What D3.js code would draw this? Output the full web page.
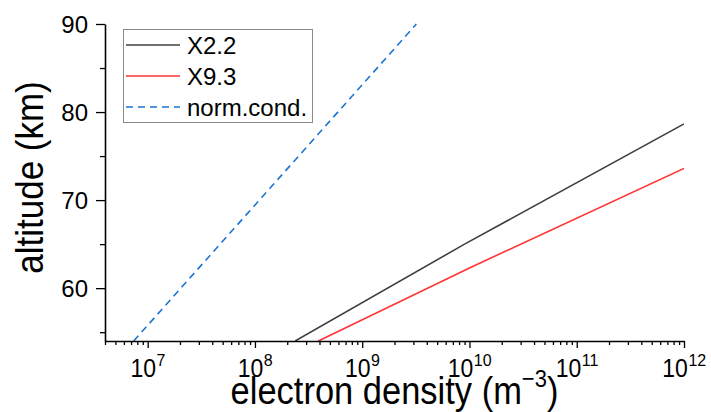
<!DOCTYPE html>
<html>
<head>
<meta charset="utf-8">
<script src="https://cdn.jsdelivr.net/npm/d3@7"></script>
<style>
  html, body { margin: 0; padding: 0; background: #fff; }
  svg { display: block; font-family: "Liberation Sans", Arial, sans-serif; }
</style>
</head>
<body>
<svg id="chart" width="711" height="412"></svg>
<script>
// ---- data ----
const seriesNames = ["X2.2", "X9.3", "norm.cond."];
const altX22 = [54, 65, 78.65];
const neX22  = [2.37e8, 9.0e9, 1e12];
const altX93 = [54, 62.3, 73.6];
const neX93  = [3.9e8, 1.0e10, 1e12];
const altNorm = [54, 70, 90];
const neNorm  = [7.4e6, 1.1e8, 3.2e9];
const yTicksMajor = [60, 70, 80, 90];
const yTicksMinor = [55, 65, 75, 85];
const xDecades = [7, 8, 9, 10, 11, 12];
const xDomain = [4e6, 1e12];
const yDomain = [54, 90];

// ---- layout ----
const svg = d3.select("#chart");
const pLeft = 105, pRight = 684, pTop = 24, pBottom = 341;
const x = d3.scaleLog().domain(xDomain).range([pLeft, pRight]);
const y = d3.scaleLinear().domain(yDomain).range([pBottom, pTop]);

svg.append("defs").append("clipPath").attr("id", "plotclip")
  .append("rect").attr("x", pLeft).attr("y", pTop - 1)
  .attr("width", pRight - pLeft).attr("height", pBottom - pTop + 1);

// ---- lines ----
const series = [
  { name: seriesNames[0], alt: altX22, ne: neX22, color: "#404040", dash: null },
  { name: seriesNames[1], alt: altX93, ne: neX93, color: "#ff3333", dash: null },
  { name: seriesNames[2], alt: altNorm, ne: neNorm, color: "#1a75d2", dash: "7,5" }
];
const line = d3.line().x(d => x(d[1])).y(d => y(d[0]));
const plot = svg.append("g").attr("clip-path", "url(#plotclip)");
series.forEach(s => {
  plot.append("path")
    .datum(s.alt.map((a, i) => [a, s.ne[i]]))
    .attr("d", line)
    .attr("fill", "none")
    .attr("stroke", s.color)
    .attr("stroke-width", 1.6)
    .attr("stroke-dasharray", s.dash);
});

// ---- axes ----
const xMajor = xDecades.map(e => Math.pow(10, e));
const xMinor = [];
for (let e = 6; e <= 11; e++) for (let k = 2; k <= 9; k++) {
  const v = k * Math.pow(10, e);
  if (v >= xDomain[0] && v <= xDomain[1]) xMinor.push(v);
}
const gx = svg.append("g").attr("transform", `translate(0,${pBottom})`);
gx.call(d3.axisBottom(x).tickValues(xMinor).tickSize(4).tickFormat(""));
gx.call(g => g.select(".domain").remove());
const gxM = svg.append("g").attr("transform", `translate(0,${pBottom})`);
gxM.call(d3.axisBottom(x).tickValues(xMajor).tickSize(7).tickSizeOuter(0).tickFormat(""));
gxM.select(".domain").attr("stroke", "#000").attr("stroke-width", 1.6);

const gy = svg.append("g").attr("transform", `translate(${pLeft},0)`);
gy.call(d3.axisLeft(y).tickValues(yTicksMinor).tickSize(5).tickFormat(""));
gy.call(g => g.select(".domain").remove());
const gyM = svg.append("g").attr("transform", `translate(${pLeft},0)`);
gyM.call(d3.axisLeft(y).tickValues(yTicksMajor).tickSize(9).tickSizeOuter(0).tickFormat(""));
gyM.select(".domain").attr("stroke", "#000").attr("stroke-width", 1.6);
svg.selectAll(".tick line").attr("stroke", "#000").attr("stroke-width", 1.3);

// y tick labels
svg.append("g").selectAll("text").data(yTicksMajor).join("text")
  .attr("x", 88).attr("y", d => y(d)).attr("dy", "0.36em")
  .attr("text-anchor", "end").attr("font-size", 24).attr("fill", "#000")
  .text(d => d);

// x tick labels 10^n (base and exponent as separate texts, centred together)
xDecades.forEach(e => {
  const cx = x(Math.pow(10, e));
  const g = svg.append("g");
  const base = g.append("text").attr("font-size", 23).attr("fill", "#000").text("10");
  const sup = g.append("text").attr("font-size", 16).attr("fill", "#000").text(e);
  const wb = base.node().getComputedTextLength();
  const ws = sup.node().getComputedTextLength();
  const x0 = cx - (wb + ws) / 2;
  base.attr("transform", `translate(${x0},376.7) scale(1,1.15)`);
  sup.attr("transform", `translate(${x0 + wb + 0.5},365.5)`);
});

// axis titles
const xt = svg.append("text")
  .attr("transform", `translate(${(pLeft + pRight) / 2},404) scale(1,1.12)`)
  .attr("text-anchor", "middle").attr("font-size", 34.5).attr("fill", "#000");
xt.append("tspan").text("electron density (m");
xt.append("tspan").attr("font-size", 22).attr("dy", -15).text("\u22123");
xt.append("tspan").attr("dy", 15).text(")");

svg.append("text")
  .attr("transform", `translate(43,${(pTop + pBottom) / 2 - 5}) rotate(-90) scale(1,1.12)`)
  .attr("text-anchor", "middle").attr("font-size", 35).attr("fill", "#000")
  .text("altitude (km)");

// ---- legend ----
const lg = svg.append("g");
lg.append("rect").attr("x", 123.5).attr("y", 29.5).attr("width", 189).attr("height", 93)
  .attr("fill", "#fff").attr("stroke", "#8a8a8a").attr("stroke-width", 1);
series.forEach((s, i) => {
  const cy = 45 + i * 31;
  lg.append("line").attr("x1", 126).attr("x2", 180).attr("y1", cy).attr("y2", cy)
    .attr("stroke", s.color).attr("stroke-width", 1.6).attr("stroke-dasharray", s.dash);
  lg.append("text").attr("x", 187).attr("y", cy).attr("dy", "0.36em")
    .attr("font-size", 24).attr("fill", "#000").text(s.name);
});
</script>
</body>
</html>
